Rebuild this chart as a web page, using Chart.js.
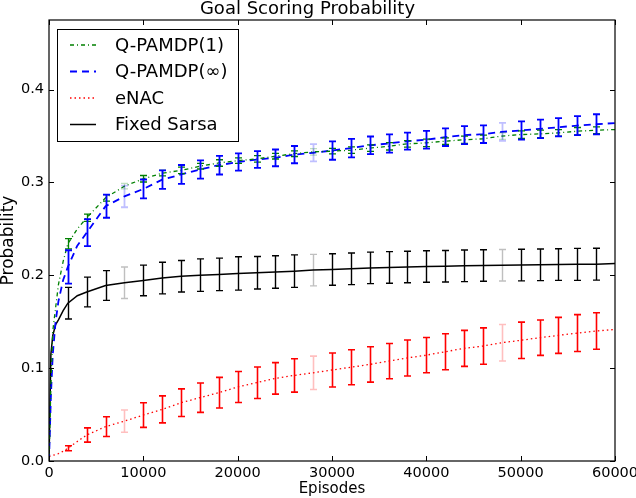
<!DOCTYPE html>
<html lang="en">
  <head>
    <meta charset="UTF-8" />
    <title>Goal Scoring Probability</title>
    <script src="https://cdn.jsdelivr.net/npm/chart.js@4/dist/chart.umd.min.js"></script>
    <style>
      body { margin: 0; background: #fff; }
    </style>
  </head>
  <body>
    <canvas id="myChart" width="636" height="498"></canvas>
    <script>
      let episodes = [0, 200, 400, 700, 1000, 1500, 2000, 3000, 4000, 6000, 8000, 10000, 12000, 14000,
        16000, 18000, 20000, 22000, 24000, 26000, 28000, 30000, 32000, 34000, 36000, 38000, 40000,
        42000, 44000, 46000, 48000, 50000, 52000, 54000, 56000, 58000, 60000];

      let qpamdp1 = [0.0, 0.08, 0.14, 0.165, 0.19, 0.215, 0.234, 0.25, 0.262, 0.2835, 0.296, 0.304, 0.31, 0.313,
        0.3175, 0.321, 0.3235, 0.3254, 0.3283, 0.331, 0.333, 0.3337, 0.3348, 0.337, 0.339, 0.3416, 0.3427,
        0.3445, 0.346, 0.347, 0.35, 0.3516, 0.3523, 0.3534, 0.3552, 0.3563, 0.357];
      let qpamdpInf = [0.0, 0.07, 0.115, 0.15, 0.172, 0.195, 0.209, 0.232, 0.246, 0.2745, 0.285, 0.293, 0.303, 0.3086,
        0.314, 0.3186, 0.322, 0.3247, 0.3265, 0.33, 0.332, 0.3344, 0.337, 0.34, 0.342, 0.3445, 0.346,
        0.3488, 0.351, 0.352, 0.3545, 0.356, 0.3577, 0.3595, 0.3613, 0.3627, 0.364];
      let enac = [0.005, 0.0055, 0.006, 0.007, 0.008, 0.0105, 0.0137, 0.021, 0.028, 0.037, 0.043, 0.0495, 0.0556, 0.0628,
        0.0682, 0.0736, 0.0797, 0.0843, 0.089, 0.0922, 0.095, 0.098, 0.101, 0.104, 0.1076, 0.111, 0.114,
        0.1177, 0.1213, 0.1238, 0.1274, 0.13, 0.1328, 0.1353, 0.1378, 0.14, 0.1417];
      let fixedSarsa = [0.0, 0.115, 0.135, 0.147, 0.152, 0.162, 0.17, 0.178, 0.182, 0.189, 0.192, 0.1945, 0.197, 0.199,
        0.2002, 0.201, 0.202, 0.2027, 0.2035, 0.2045, 0.2056, 0.2063, 0.207, 0.208, 0.2085, 0.209, 0.2095,
        0.2098, 0.2102, 0.2106, 0.2108, 0.211, 0.2113, 0.2116, 0.2118, 0.212, 0.2128];

      // error bars every 2000 episodes
      let errEpisodes = [2000, 4000, 6000, 8000, 10000, 12000, 14000, 16000, 18000, 20000, 22000, 24000, 26000,
        28000, 30000, 32000, 34000, 36000, 38000, 40000, 42000, 44000, 46000, 48000, 50000, 52000, 54000,
        56000, 58000];
      let qpamdp1Err = [0.0055, 0.004, 0.0035, 0.003, 0.0035, 0.003, 0.0035, 0.003, 0.0035, 0.003, 0.0035, 0.003,
        0.003, 0.0035, 0.003, 0.0035, 0.0035, 0.004, 0.0035, 0.004, 0.0035, 0.004, 0.004, 0.0035, 0.004,
        0.004, 0.0035, 0.004, 0.0036];
      let qpamdpInfErr = [0.018, 0.0145, 0.0125, 0.0117, 0.0102, 0.01, 0.0102, 0.0099, 0.01, 0.0093, 0.009, 0.009,
        0.0093, 0.0093, 0.0099, 0.0099, 0.0095, 0.0098, 0.0092, 0.0095, 0.0095, 0.0097, 0.0095, 0.0097,
        0.0098, 0.0099, 0.0099, 0.0102, 0.0108];
      let enacErr = [0.0027, 0.0077, 0.0106, 0.012, 0.0133, 0.0145, 0.0149, 0.0158, 0.0165, 0.0167, 0.017, 0.017,
        0.018, 0.018, 0.0183, 0.0188, 0.019, 0.019, 0.0194, 0.019, 0.0194, 0.0194, 0.0196, 0.0197, 0.0196,
        0.019, 0.0194, 0.0199, 0.0196];
      let fixedSarsaErr = [0.017, 0.016, 0.016, 0.017, 0.0165, 0.017, 0.017, 0.0175, 0.0175, 0.018, 0.0175, 0.0175,
        0.0175, 0.017, 0.017, 0.017, 0.017, 0.017, 0.017, 0.017, 0.017, 0.017, 0.017, 0.017, 0.017,
        0.017, 0.017, 0.0172, 0.0172];
      // these bars came out washed-out in the original render
      let fadedAt = [8000, 28000, 48000];

      let font = "'DejaVu Sans', sans-serif";

      function points(values) {
        return values.map((v, i) => ({ x: episodes[i], y: v }));
      }

      let data = {
        datasets: [
          {
            label: "Q-PAMDP(1)",
            borderColor: "rgb(0, 128, 0)",
            borderWidth: 1.3,
            borderDash: [4, 3, 1, 3],
            data: points(qpamdp1),
            errors: qpamdp1Err,
            errWidth: 1.3,
          },
          {
            label: "Q-PAMDP(∞)",
            borderColor: "rgb(0, 0, 255)",
            borderWidth: 1.8,
            borderDash: [7, 5],
            data: points(qpamdpInf),
            errors: qpamdpInfErr,
            errWidth: 1.8,
          },
          {
            label: "eNAC",
            borderColor: "rgb(255, 0, 0)",
            borderWidth: 1.3,
            borderDash: [1.5, 3],
            data: points(enac),
            errors: enacErr,
            errWidth: 1.6,
          },
          {
            label: "Fixed Sarsa",
            borderColor: "rgb(0, 0, 0)",
            borderWidth: 1.5,
            borderDash: [],
            data: points(fixedSarsa),
            errors: fixedSarsaErr,
            errWidth: 1.4,
          },
        ],
      };

      let extras = {
        id: "extras",
        afterDatasetsDraw(chart) {
          let ctx = chart.ctx;
          let xs = chart.scales.x;
          let ys = chart.scales.y;
          let a = chart.chartArea;
          ctx.save();
          ctx.beginPath();
          ctx.rect(a.left, a.top, a.right - a.left, a.bottom - a.top);
          ctx.clip();
          chart.data.datasets.forEach((ds) => {
            ds.errors.forEach((e, i) => {
              let ep = errEpisodes[i];
              let v = ds.data[episodes.indexOf(ep)].y;
              let px = Math.round(xs.getPixelForValue(ep)) + 0.5;
              let top = ys.getPixelForValue(v + e);
              let bot = ys.getPixelForValue(v - e);
              ctx.globalAlpha = fadedAt.includes(ep) ? 0.25 : 1;
              ctx.strokeStyle = ds.borderColor;
              ctx.lineWidth = ds.errWidth;
              ctx.beginPath();
              ctx.moveTo(px, top);
              ctx.lineTo(px, bot);
              ctx.moveTo(px - 3.5, top);
              ctx.lineTo(px + 3.5, top);
              ctx.moveTo(px - 3.5, bot);
              ctx.lineTo(px + 3.5, bot);
              ctx.stroke();
            });
          });
          ctx.restore();
        },
        afterDraw(chart) {
          let ctx = chart.ctx;
          let a = chart.chartArea;
          let xs = chart.scales.x;
          let ys = chart.scales.y;
          ctx.save();
          ctx.strokeStyle = "#000";
          ctx.lineWidth = 1.2;
          ctx.strokeRect(a.left, a.top, a.right - a.left, a.bottom - a.top);

          // inward ticks on all four sides
          ctx.lineWidth = 1;
          ctx.beginPath();
          xs.ticks.forEach((t) => {
            let px = Math.round(xs.getPixelForValue(t.value)) + 0.5;
            ctx.moveTo(px, a.bottom);
            ctx.lineTo(px, a.bottom - 5);
            ctx.moveTo(px, a.top);
            ctx.lineTo(px, a.top + 5);
          });
          ys.ticks.forEach((t) => {
            let py = Math.round(ys.getPixelForValue(t.value)) + 0.5;
            ctx.moveTo(a.left, py);
            ctx.lineTo(a.left + 5, py);
            ctx.moveTo(a.right, py);
            ctx.lineTo(a.right - 5, py);
          });
          ctx.stroke();

          // legend box
          ctx.fillStyle = "#fff";
          ctx.fillRect(57.5, 29.5, 181, 112);
          ctx.lineWidth = 1;
          ctx.strokeRect(57.5, 29.5, 181, 112);
          ctx.font = "18px " + font;
          ctx.textBaseline = "middle";
          chart.data.datasets.forEach((ds, i) => {
            let y = 45 + i * 26.5;
            ctx.strokeStyle = ds.borderColor;
            ctx.lineWidth = ds.borderWidth;
            ctx.setLineDash(ds.borderDash);
            ctx.beginPath();
            ctx.moveTo(70, y);
            ctx.lineTo(96, y);
            ctx.stroke();
            ctx.setLineDash([]);
            ctx.fillStyle = "#000";
            ctx.fillText(ds.label, 115, y + 1);
          });
          ctx.restore();
        },
      };

      let config = {
        type: "line",
        data: data,
        options: {
          responsive: false,
          animation: false,
          layout: { padding: { left: 0, right: 21, top: 0, bottom: 0 } },
          elements: { point: { radius: 0 }, line: { tension: 0 } },
          plugins: {
            legend: { display: false },
            tooltip: { enabled: false },
            title: {
              display: true,
              text: "Goal Scoring Probability",
              color: "#000",
              font: { family: font, size: 18, weight: "normal", lineHeight: 1 },
              padding: { top: 0, bottom: 2 },
            },
          },
          scales: {
            x: {
              type: "linear",
              min: 0,
              max: 60000,
              grid: { display: false, drawTicks: false },
              border: { display: false },
              ticks: {
                stepSize: 10000,
                color: "#000",
                padding: 4,
                maxRotation: 0,
                font: { family: font, size: 14.5 },
                callback: (v) => String(v),
              },
              title: {
                display: true,
                text: "Episodes",
                color: "#000",
                font: { family: font, size: 15, lineHeight: 1 },
                padding: { top: 0, bottom: 1 },
              },
              afterFit: (scale) => {
                scale.height = 37;
                scale.paddingLeft = 0;
                scale.paddingRight = 0;
              },
            },
            y: {
              min: 0,
              max: 0.475,
              grid: { display: false, drawTicks: false },
              border: { display: false },
              ticks: {
                stepSize: 0.1,
                color: "#000",
                padding: 5,
                font: { family: font, size: 14.5 },
                callback: (v) => v.toFixed(1),
              },
              afterBuildTicks: (scale) => {
                scale.ticks = scale.ticks.filter((t) => Math.abs(t.value * 10 - Math.round(t.value * 10)) < 1e-6);
              },
              title: {
                display: true,
                text: "Probability",
                color: "#000",
                font: { family: font, size: 17, lineHeight: 1 },
                padding: 0,
              },
              afterFit: (scale) => {
                scale.width = 49;
                scale.paddingTop = 0;
                scale.paddingBottom = 0;
              },
            },
          },
        },
        plugins: [extras],
      };

      let myChart = new Chart(document.getElementById("myChart"), config);
    </script>
  </body>
</html>
